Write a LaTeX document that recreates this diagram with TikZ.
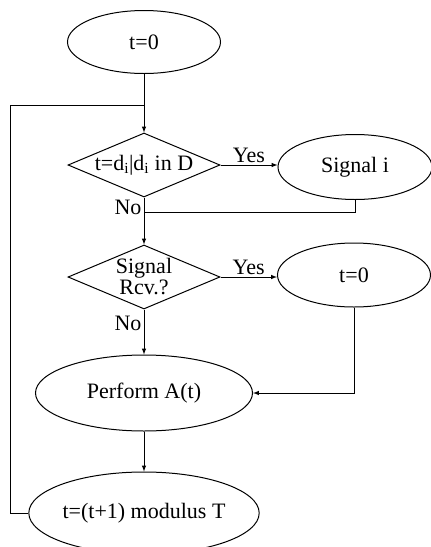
\documentclass[tikz,border=0pt]{standalone}
\usepackage{fontspec}
\setmainfont{Liberation Serif}
\usetikzlibrary{shapes.geometric}
\tikzset{
  oval/.style={ellipse, draw, line width=1pt, inner sep=0pt},
  decide/.style={diamond, draw, line width=1pt, inner sep=0pt, minimum width=152, minimum height=64},
  flow/.style={line width=1pt},
}
\begin{document}
\begin{tikzpicture}[x=1pt,y=-1pt,font=\fontsize{22}{21}\selectfont]
\useasboundingbox (0,0) rectangle (431,547);
\node[oval, minimum width=153, minimum height=63] (start) at (144,42) {t=0};
\node[decide, label={center:t=d\textsubscript{i}|d\textsubscript{i} in D}] (dec1) at (144,165) {};
\node[oval, minimum width=154, minimum height=65] (sig) at (355,167) {Signal i};
\node[decide, label={[align=center]center:Signal\\Rcv.?}] (dec2) at (144,277) {};
\node[oval, minimum width=153, minimum height=64] (reset) at (354,275) {t=0};
\node[oval, minimum width=217, minimum height=76] (perf) at (144,393) {Perform A(t)};
\node[oval, minimum width=217, minimum height=82] (mod) at (144,513) {t=(t+1) modulus T};
\coordinate (jn) at (144,105);
\coordinate (loopc) at (10,105);
\coordinate (mg) at (144,212);
\draw[flow,-latex] (start) -- (dec1);
\draw[flow] (mod.west) -| (loopc) -- (jn);
\draw[flow,-latex] (dec1.east) -- node[above=-2pt]{Yes} (sig.west |- dec1.east);
\draw[flow] (sig.south) |- (mg);
\draw[flow,-latex] (dec1.south) -- node[pos=0, anchor=north east, inner sep=2pt]{No} (dec2.north);
\draw[flow,-latex] (dec2.east) -- node[above=-2pt]{Yes} (reset.west |- dec2.east);
\draw[flow,-latex] (dec2.south) -- node[pos=0.1, anchor=north east, inner sep=2pt]{No} (perf.north);
\draw[flow,-latex] (reset.south) |- (perf.east);
\draw[flow,-latex] (perf) -- (mod);
\end{tikzpicture}
\end{document}
